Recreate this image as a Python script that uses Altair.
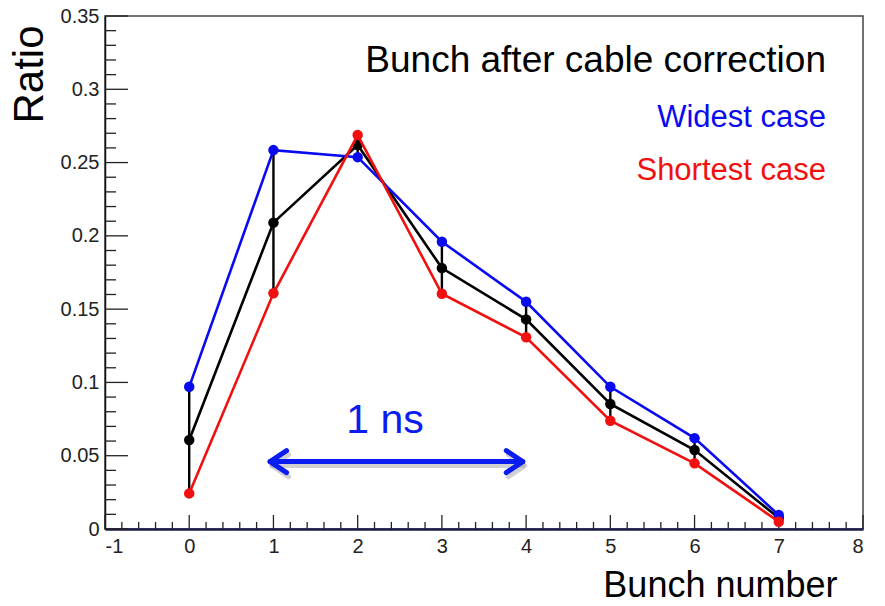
import altair as alt
import pandas as pd

# Bunch index and measured ratio per bunch
bunch = [0, 1, 2, 3, 4, 5, 6, 7]
widest = [0.097, 0.2585, 0.2537, 0.196, 0.155, 0.097, 0.062, 0.0095]
average = [0.0607, 0.209, 0.262, 0.178, 0.143, 0.0853, 0.0539, 0.0075]
shortest = [0.0243, 0.1608, 0.2688, 0.1605, 0.1308, 0.0739, 0.0448, 0.005]

# Axis tick values
x_major = [-1, 0, 1, 2, 3, 4, 5, 6, 7, 8]
y_major = [0, 0.05, 0.1, 0.15, 0.2, 0.25, 0.3, 0.35]
x_minor = [round(-1 + 0.2 * i, 2) for i in range(46) if i % 5 != 0]
y_minor = [round(0.01 * i, 2) for i in range(36) if i % 5 != 0]

# "1 ns" span marker (in bunch units) and its height
arrow_x = [0.96, 3.96]
arrow_y = [0.046]

W, H = 758, 513
FONT = "Liberation Sans"
BLUE = "#0a0af0"
RED = "#f01010"

xs = alt.Scale(domain=[-1, 8], nice=False, zero=False)
ys = alt.Scale(domain=[0, 0.35], nice=False, zero=False)

x_axis = alt.Axis(
    values=x_major, labelExpr="'' + datum.value", ticks=False, tickSize=0,
    grid=False, labelFontSize=20, labelColor="#222", labelFont=FONT, labelPadding=7,
    domainColor="#1b1b4d", domainWidth=2.5,
    title="Bunch number", titleFont=FONT, titleFontSize=36, titleFontWeight="normal",
    titleColor="black", titleAlign="right", titleBaseline="alphabetic",
    titleX=732, titleY=67,
)
y_axis = alt.Axis(
    values=y_major, labelExpr="'' + datum.value", ticks=False, tickSize=0,
    grid=False, labelFontSize=20, labelColor="#222", labelFont=FONT, labelPadding=6,
    domainColor="#111", domainWidth=1.5,
    title="Ratio", titleFont=FONT, titleFontSize=42, titleFontWeight="normal",
    titleColor="black", titleAngle=-90, titleAlign="right", titleBaseline="alphabetic",
    titleX=-63, titleY=9,
)


def X(field):
    return alt.X(field, scale=xs, axis=x_axis)


def Y(field):
    return alt.Y(field, scale=ys, axis=y_axis)


df = pd.DataFrame({"bunch": bunch, "widest": widest, "average": average, "shortest": shortest})
df["lo"] = df[["widest", "shortest"]].min(axis=1)
df["hi"] = df[["widest", "shortest"]].max(axis=1)

base = alt.Chart(df)

# spread between the widest and shortest cases
spread = base.mark_rule(color="black", strokeWidth=2.4).encode(
    x=X("bunch:Q"), y=Y("lo:Q"), y2="hi:Q",
)


def series(field, color):
    enc = dict(x=X("bunch:Q"), y=Y(f"{field}:Q"))
    line = base.mark_line(color=color, strokeWidth=2.6).encode(**enc)
    pts = base.mark_circle(color=color, size=110, opacity=1).encode(**enc)
    return line + pts


avg_layer = series("average", "black")
wide_layer = series("widest", BLUE)
short_layer = series("shortest", RED)


# inward ticks, ROOT style
def yticks(vals, length):
    return alt.Chart(pd.DataFrame({"v": vals})).mark_rule(color="#222", strokeWidth=1.3).encode(
        y=Y("v:Q"), x=alt.value(0), x2=alt.value(length)
    )


def xticks(vals, length):
    return alt.Chart(pd.DataFrame({"v": vals})).mark_rule(color="#222", strokeWidth=1.3).encode(
        x=X("v:Q"), y=alt.value(H), y2=alt.value(H - length)
    )


ticks = yticks(y_major, 23) + yticks(y_minor, 11) + xticks(x_major, 14) + xticks(x_minor, 7)

# double-headed arrow with a soft drop shadow
arrow_df = pd.DataFrame({"x1": [arrow_x[0]], "x2": [arrow_x[1]], "y": arrow_y})
head_paths = ["M1.5,-1L0,0L1.5,1", "M-1.5,-1L0,0L-1.5,1"]


def arrow(color, dx, dy, opacity):
    shaft = alt.Chart(arrow_df).mark_rule(
        color=color, strokeWidth=5, xOffset=dx, yOffset=dy, opacity=opacity, strokeCap="round"
    ).encode(x=X("x1:Q"), x2="x2:Q", y=Y("y:Q"))
    heads = []
    for path, xv in zip(head_paths, arrow_x):
        heads.append(
            alt.Chart(pd.DataFrame({"x": [xv], "y": arrow_y})).mark_point(
                shape=path, filled=False, stroke=color, strokeWidth=5, size=484,
                xOffset=dx, yOffset=dy, opacity=opacity, strokeCap="round", strokeJoin="round",
            ).encode(x=X("x:Q"), y=Y("y:Q"))
        )
    return alt.layer(shaft, *heads)


arrow_layer = arrow("#9a9a9a", 2, 4, 0.45) + arrow("#0b1cf0", 0, 0, 1)

ns_label = alt.Chart(pd.DataFrame({"t": ["1 ns"]})).mark_text(
    font=FONT, fontSize=41, color="#0b1cf0", align="center", baseline="alphabetic"
).encode(text="t:N", x=alt.value(280), y=alt.value(417))


def label(text, size, color, y):
    return alt.Chart(pd.DataFrame({"t": [text]})).mark_text(
        font=FONT, fontSize=size, color=color, align="right", baseline="alphabetic"
    ).encode(text="t:N", x=alt.value(721), y=alt.value(y))


labels = (
    label("Bunch after cable correction", 37, "black", 56)
    + label("Widest case", 31, BLUE, 111)
    + label("Shortest case", 31, RED, 164)
)

chart = alt.layer(
    ticks, spread, avg_layer, wide_layer, short_layer, arrow_layer, ns_label, labels
).properties(
    width=W, height=H,
    padding={"left": 105, "top": 16, "right": 22, "bottom": 77},
    autosize="none", background="white",
).configure_view(stroke="#444", strokeWidth=1.5)

chart.save("out.html", embed_options={"renderer": "svg", "actions": False})
